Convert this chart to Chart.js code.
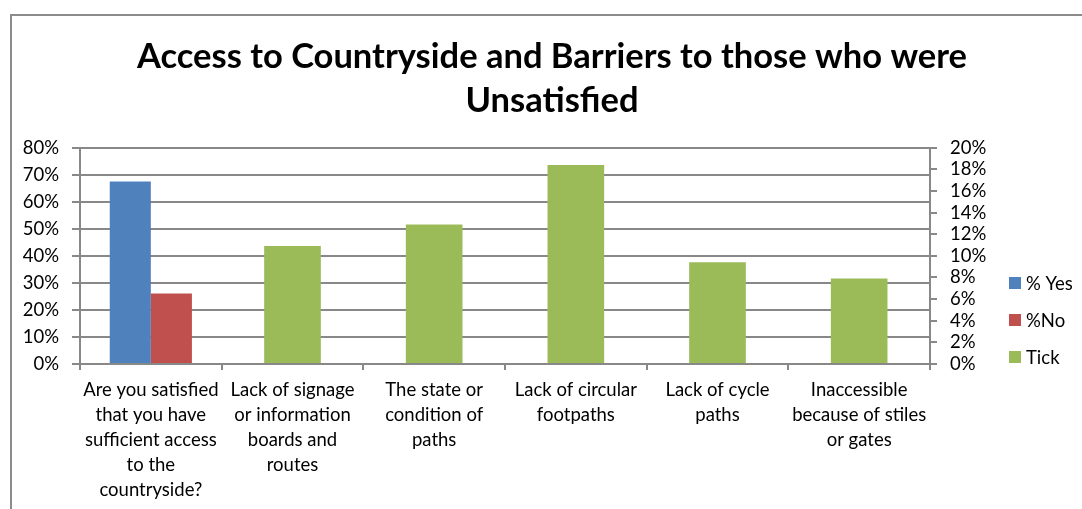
<!DOCTYPE html>
<html>
<head>
<meta charset="utf-8">
<script src="https://cdn.jsdelivr.net/npm/chart.js@4/dist/chart.umd.min.js"></script>
<style>
  html, body { margin: 0; padding: 0; background: #fff; overflow: hidden; }
  #frame {
    position: absolute; left: 10px; top: 14px;
    width: 1080px; height: 500px;
    border-top: 2px solid #8c8c8c; border-left: 2px solid #8c8c8c;
  }
  #wrap { position: absolute; left: 0; top: 0; width: 1070px; height: 493px; }
</style>
</head>
<body>
<div id="frame"><div id="wrap"><canvas id="chart"></canvas></div></div>
<script>
// Categories (multi-line labels as in the original)
const categories = [
    ['Are you satisfied', 'that you have', 'sufficient access', 'to the', 'countryside?'],
    ['Lack of signage', 'or information', 'boards and', 'routes'],
    ['The state or', 'condition of', 'paths'],
    ['Lack of circular', 'footpaths'],
    ['Lack of cycle', 'paths'],
    ['Inaccessible', 'because of stiles', 'or gates']
];

// Series values (percent)
const yesValues  = [67.5, null, null, null, null, null];
const noValues   = [26.1, null, null, null, null, null];
const tickValues = [null, 10.9, 12.9, 18.4, 9.4, 7.9];

const titleLines = ['Access to Countryside and Barriers to those who were', 'Unsatisfied'];

const gridGray = '#888888';
const fontFamily = "Lato, 'Open Sans', sans-serif";
const labelSize = 18.5;

Chart.defaults.font.family = fontFamily;
Chart.defaults.color = '#000';

// Simple legend drawn at the right, like the Excel original
const sideLegend = {
    id: 'sideLegend',
    afterDraw(chart) {
        const c = chart.ctx;
        const area = chart.chartArea;
        const x = area.right + 79;
        let y = area.bottom - 81;
        c.save();
        c.font = labelSize + 'px ' + fontFamily;
        c.textBaseline = 'middle';
        c.textAlign = 'left';
        chart.data.datasets.forEach(ds => {
            c.fillStyle = ds.backgroundColor;
            c.fillRect(x, y - 6, 12, 12);
            c.fillStyle = '#000';
            c.fillText(ds.label, x + 17, y + 1);
            y += 37;
        });
        c.restore();
    }
};

const ctx = document.getElementById('chart').getContext('2d');

new Chart(ctx, {
    type: 'bar',
    data: {
        labels: categories,
        datasets: [
            {
                label: '% Yes',
                data: yesValues,
                backgroundColor: '#4F81BD',
                yAxisID: 'y',
                categoryPercentage: 0.58,
                barPercentage: 1.0
            },
            {
                label: '%No',
                data: noValues,
                backgroundColor: '#C0504D',
                yAxisID: 'y',
                categoryPercentage: 0.58,
                barPercentage: 1.0
            },
            {
                label: 'Tick',
                data: tickValues,
                backgroundColor: '#9BBB59',
                yAxisID: 'y2',
                grouped: false,
                categoryPercentage: 0.4,
                barPercentage: 1.0
            }
        ]
    },
    options: {
        responsive: true,
        maintainAspectRatio: false,
        animation: false,
        layout: { padding: { left: 10, right: 0, top: 0, bottom: 0 } },
        plugins: {
            title: {
                display: true,
                text: titleLines,
                color: '#000',
                font: { family: fontFamily, size: 34.5, weight: 'bold', lineHeight: 1.3 },
                padding: { top: 18, bottom: 24 }
            },
            legend: { display: false },
            tooltip: { enabled: false }
        },
        scales: {
            x: {
                type: 'category',
                offset: true,
                grid: {
                    display: true,
                    offset: true,
                    drawOnChartArea: false,
                    drawTicks: true,
                    tickLength: 6,
                    color: gridGray,
                    lineWidth: 2
                },
                border: { display: true, color: gridGray, width: 2 },
                ticks: {
                    maxRotation: 0,
                    autoSkip: false,
                    padding: 8,
                    font: { size: labelSize, lineHeight: 25 / labelSize },
                    color: '#000'
                },
                afterFit: function(scale) { scale.height = 145; }
            },
            y: {
                position: 'left',
                min: 0,
                max: 80,
                ticks: {
                    stepSize: 10,
                    autoSkip: false,
                    padding: 13,
                    font: { size: labelSize },
                    color: '#000',
                    callback: function(v) { return v + '%'; }
                },
                grid: {
                    color: gridGray,
                    lineWidth: 2,
                    tickLength: 8
                },
                border: { display: true, color: gridGray, width: 2 },
                afterFit: function(scale) { scale.width = 58; }
            },
            y2: {
                position: 'right',
                min: 0,
                max: 20,
                ticks: {
                    stepSize: 2,
                    autoSkip: false,
                    padding: 13,
                    font: { size: labelSize },
                    color: '#000',
                    callback: function(v) { return v + '%'; }
                },
                grid: {
                    drawOnChartArea: false,
                    color: gridGray,
                    lineWidth: 2,
                    tickLength: 7
                },
                border: { display: true, color: gridGray, width: 2 },
                afterFit: function(scale) { scale.width = 152; }
            }
        }
    },
    plugins: [sideLegend]
});
</script>
</body>
</html>
